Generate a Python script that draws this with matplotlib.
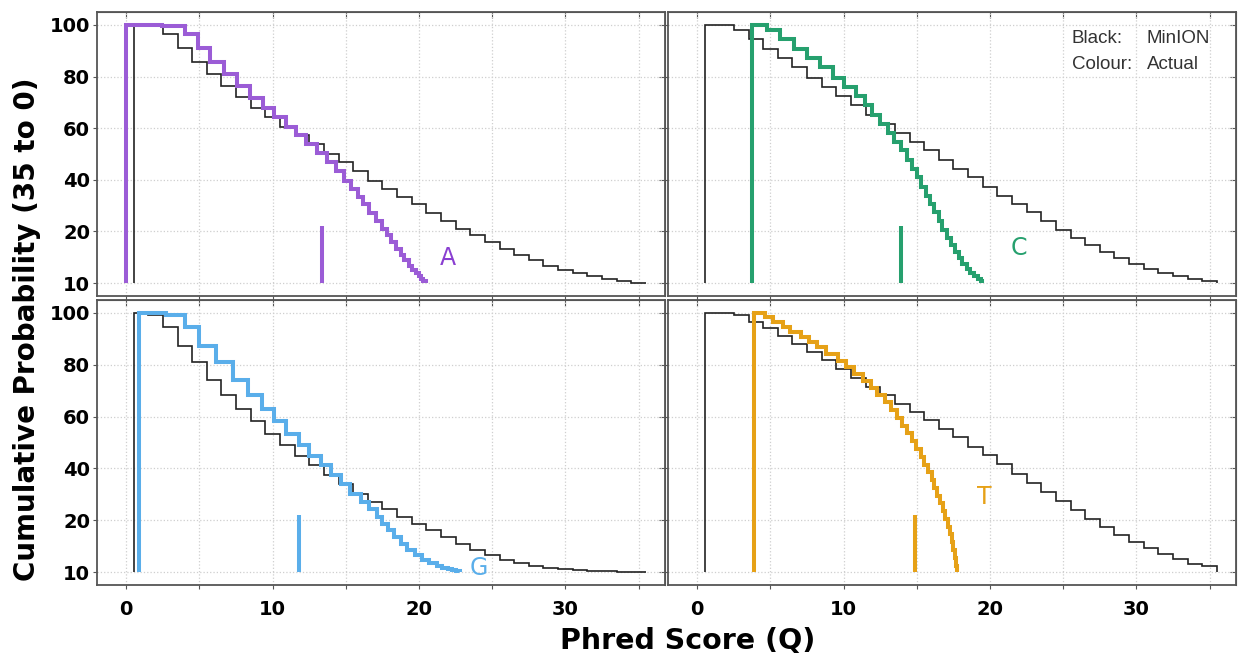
import numpy as np
import matplotlib.pyplot as plt

# ---------------- data ----------------
# MinION (black) : cumulative probability per Phred bin, bins edges 0.5 .. 35.5
q_edges = np.arange(0.5, 36.0, 1.0)

minion_A = [100, 100, 96.5, 90.9, 85.8, 81, 76.2, 72, 67.9, 64.2, 60.6, 57.2, 53.7, 50.1,
            46.8, 43.6, 39.7, 36.5, 33.3, 30.5, 27.1, 24, 21, 18.5, 15.9, 13.3, 10.7, 8.8,
            6.8, 5.2, 3.9, 2.6, 1.7, 0.8, 0.15]
minion_C = [100, 100, 98.1, 94.6, 90.7, 87.2, 83.6, 79.5, 75.9, 72.3, 68.8, 65.2, 61.7, 58,
            54.6, 51.4, 47.7, 44.3, 41, 37.4, 33.9, 30.7, 27.5, 24, 20.7, 17.6, 14.6, 12,
            9.8, 7.5, 5.6, 3.9, 2.6, 1.7, 1.0]
minion_G = [100, 99.3, 94.6, 87.1, 81.1, 74, 68.2, 63, 58.2, 53.4, 48.9, 44.8, 41.2, 37.3,
            34.1, 30.2, 27.0, 24.2, 21.2, 18.7, 16.1, 13.5, 10.9, 8.6, 6.4, 4.8, 3.5, 2.4,
            1.7, 1.2, 0.8, 0.5, 0.3, 0.15, 0.05]
minion_T = [100, 100, 99.1, 96.5, 94, 91, 88.2, 85, 81.7, 78.3, 75, 71.4, 68.2, 65, 61.8,
            58.6, 55.4, 52.1, 48.3, 45, 41.6, 38, 34.4, 30.9, 27.4, 23.8, 20.6, 17.4, 14.2,
            11.6, 9.4, 7.1, 5.1, 3.2, 2.2]

# Actual (colour) : step edges in Q and levels
actual_A_q = [0.0, 2.46, 4.0, 4.9, 5.7, 6.65, 7.56, 8.47, 9.34, 10.1, 10.9, 11.6, 12.3, 13.0,
              13.7, 14.35, 14.9, 15.35, 15.8, 16.2, 16.6, 17.05, 17.45, 17.8, 18.1, 18.4,
              18.75, 19.0, 19.3, 19.55, 19.8, 20.0, 20.15, 20.3, 20.45]
actual_A = [100, 99.5, 96.5, 90.9, 85.8, 80.8, 76.2, 71.7, 67.9, 64.2, 60.6, 57.2, 53.7, 50.3,
            46.8, 43.6, 39.7, 36.5, 33.3, 30.5, 27.1, 24.0, 21.0, 18.5, 15.9, 13.3, 10.7, 8.8,
            6.8, 5.2, 3.9, 2.6, 1.7, 0.8]

actual_C_q = [3.72, 4.73, 5.62, 6.63, 7.52, 8.40, 9.29, 10.05, 10.81, 11.44, 11.95, 12.46,
              13.01, 13.47, 13.9, 14.3, 14.65, 15.0, 15.3, 15.6, 15.9, 16.2, 16.5, 16.75,
              17.05, 17.35, 17.6, 17.85, 18.1, 18.4, 18.65, 18.9, 19.15, 19.35, 19.45]
actual_C = [100, 98.1, 94.6, 90.7, 87.0, 83.6, 79.5, 75.9, 72.3, 68.8, 65.2, 61.7, 58.0, 54.6,
            51.4, 47.7, 44.3, 41.0, 37.4, 33.9, 30.7, 27.5, 24.0, 20.7, 17.6, 14.6, 12.0, 9.8,
            7.5, 5.6, 3.9, 2.6, 1.7, 1.0]

actual_G_q = [0.86, 2.7, 3.98, 5.0, 6.14, 7.27, 8.3, 9.3, 10.1, 10.9, 11.8, 12.5, 13.3, 14.0,
              14.7, 15.3, 16.0, 16.6, 17.1, 17.5, 17.9, 18.3, 18.75, 19.2, 19.7, 20.2, 20.7,
              21.2, 21.6, 21.95, 22.25, 22.5, 22.8]
actual_G = [100, 99.3, 94.6, 87.1, 81.1, 74.0, 68.2, 63.0, 58.2, 53.4, 48.9, 44.8, 41.2, 37.3,
            34.1, 30.2, 27.0, 24.2, 21.2, 18.7, 16.1, 13.5, 10.9, 8.6, 6.4, 4.8, 3.5, 2.4,
            1.7, 1.2, 0.8, 0.5]

actual_T_q = [3.9, 4.6, 5.16, 5.84, 6.3, 7.1, 7.66, 8.2, 8.8, 9.6, 10.16, 10.7, 11.3, 11.86,
              12.3, 12.8, 13.25, 13.65, 14.0, 14.35, 14.65, 14.95, 15.25, 15.5, 15.75, 16.0,
              16.2, 16.4, 16.6, 16.8, 16.95, 17.1, 17.25, 17.38, 17.5, 17.58, 17.65, 17.72]
actual_T = [100, 98.3, 96.4, 94.5, 92.5, 90.6, 88.6, 86.7, 84.1, 81.5, 79.0, 76.4, 73.8, 71.2,
            68.3, 65.5, 62.5, 59.5, 56.5, 53.5, 50.5, 47.5, 44.5, 41.5, 38.5, 35.5, 32.5,
            29.5, 26.5, 23.5, 20.5, 17.5, 14.5, 11.5, 8.5, 5.5, 2.5]

# short vertical marks (Q position, height)
marks = {"A": (13.4, 22), "C": (13.95, 22), "G": (11.8, 22), "T": (14.9, 22)}

y_ticks = [0, 20, 40, 60, 80, 100]
y_tick_labels = ["10", "20", "40", "60", "80", "100"]
x_ticks = [0, 5, 10, 15, 20, 25, 30, 35]
x_tick_labels = ["0", "", "10", "", "20", "", "30", ""]

panels = [
    ("A", minion_A, actual_A_q, actual_A, "#9b5cd6", "#8a3fd1", (22.0, 9.6)),
    ("C", minion_C, actual_C_q, actual_C, "#26a06e", "#26a06e", (22.0, 13.4)),
    ("G", minion_G, actual_G_q, actual_G, "#5aaeea", "#5aaeea", (24.1, 1.4)),
    ("T", minion_T, actual_T_q, actual_T, "#e6a117", "#e6a117", (19.6, 28.8)),
]

# ---------------- figure ----------------
fig = plt.figure(figsize=(12.39, 6.59), dpi=100)
W, H = 1239.0, 659.0
boxes = [(97, 12, 568, 284), (668, 12, 568, 284),
         (97, 300, 568, 285), (668, 300, 568, 285)]

frame_c = "#555555"
for i, (base, mn, aq, av, col, tcol, tpos) in enumerate(panels):
    x0, y0, w, h = boxes[i]
    ax = fig.add_axes([x0 / W, 1 - (y0 + h) / H, w / W, h / H])

    ax.grid(True, linestyle=":", color="#cfcfcf", linewidth=0.9)
    ax.set_axisbelow(True)

    ax.stairs(mn, q_edges, baseline=0, color="#222222", linewidth=1.2, zorder=3)
    ax.stairs(av, aq, baseline=0, color=col, linewidth=2.9, zorder=4)
    mq, mh = marks[base]
    ax.vlines(mq, 0, mh, color=col, linewidth=2.9, zorder=4)
    ax.text(tpos[0], tpos[1], base, color=tcol, fontsize=17, ha="center", va="center")

    ax.set_xlim(-2.0, 36.8)
    ax.set_ylim(-5, 105)
    ax.set_xticks(x_ticks)
    ax.set_yticks(y_ticks)
    if i in (0, 2):
        ax.set_yticklabels(y_tick_labels, fontsize=14, fontweight="bold")
    else:
        ax.set_yticklabels([])
    if i in (2, 3):
        ax.set_xticklabels(x_tick_labels, fontsize=14, fontweight="bold")
    else:
        ax.set_xticklabels([])
    ax.tick_params(direction="out", length=3, color=frame_c)
    ax.tick_params(axis="y", pad=2)
    ax.tick_params(axis="x", pad=8)
    for s in ax.spines.values():
        s.set_color(frame_c)
        s.set_linewidth(1.3)

    # inward ticks on top and right
    top = ax.secondary_xaxis("top")
    top.set_xticks(x_ticks)
    top.tick_params(direction="in", length=4, color=frame_c, labeltop=False)
    top.spines["top"].set_color(frame_c)
    right = ax.secondary_yaxis("right")
    right.set_yticks(y_ticks)
    right.tick_params(direction="in", length=4, color=frame_c, labelright=False)
    right.spines["right"].set_color(frame_c)

    if base == "C":
        kw = dict(transform=ax.transAxes, fontsize=13.5, color="#333333",
                  family="Liberation Sans", va="center")
        ax.text(0.711, 0.905, "Black:", **kw)
        ax.text(0.843, 0.905, "MinION", **kw)
        ax.text(0.711, 0.815, "Colour:", **kw)
        ax.text(0.843, 0.815, "Actual", **kw)

fig.text(0.022, 0.5, "Cumulative Probability (35 to 0)", rotation=90, fontsize=20,
         fontweight="bold", ha="center", va="center")
fig.text(0.555, 0.028, "Phred Score (Q)", fontsize=20.5, fontweight="bold",
         ha="center", va="center")

fig.savefig("out.png", dpi=100)
